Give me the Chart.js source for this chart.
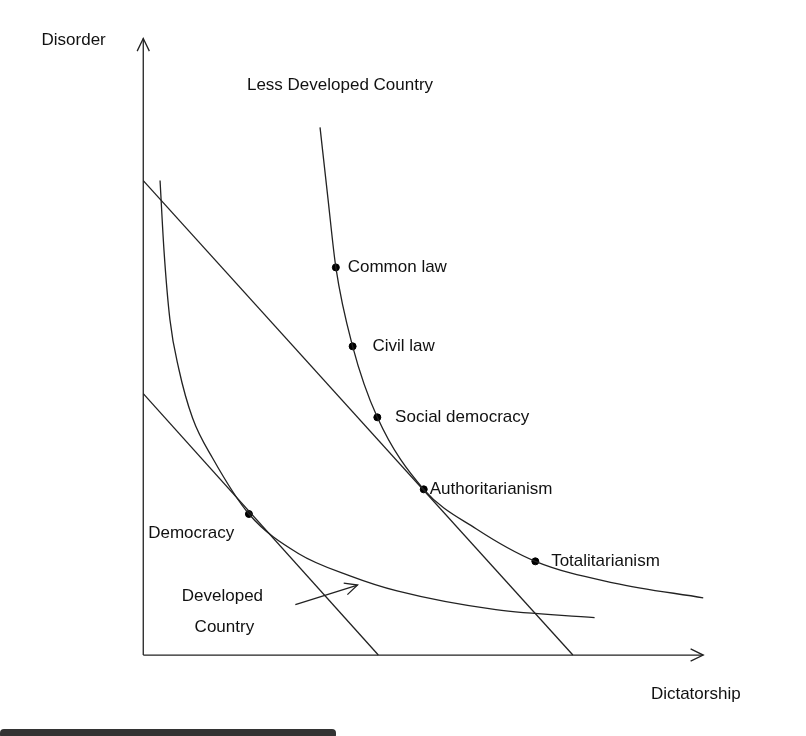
<!DOCTYPE html>
<html>
<head>
<meta charset="utf-8">
<script src="https://cdn.jsdelivr.net/npm/chart.js@4/dist/chart.umd.min.js"></script>
<style>
  body { margin: 0; background: #fff; }
  #wrap { position: relative; width: 806px; height: 736px; }
  #bar { position: absolute; left: 0; top: 729px; width: 336px; height: 10px; background: #333; border-radius: 4px; }
</style>
</head>
<body>
<div id="wrap">
  <canvas id="chart" width="806" height="736"></canvas>
  <div id="bar"></div>
</div>
<script>
// diagram units: x = right of origin, y = up from origin
const lessDevCurve = [[179,535],[187,463],[195,393],[212,313],[237,241],[284,168],[337,128],[397,95],[477,73],[567,58]];
const devCurve = [[17,481],[21,410],[27,340],[36,290],[50,240],[70,200],[107,143],[157,103],[210,80],[257,65],[357,46],[457,38]];
const budgetHigh = [[0,481],[435,0]];
const budgetLow = [[0,265],[238,0]];
const regimes = ['Common law', 'Civil law', 'Social democracy', 'Authoritarianism', 'Totalitarianism', 'Democracy'];
const regimePts = [[195,393],[212,313],[237,241],[284,168],[397,95],[107,143]];
const regimeLabelOffset = [[12,0],[20,0],[18,0],[6,0],[16,0],[-102,-20]];
const texts = [
  ['Disorder', -103, 623], ['Less Developed Country', 105, 578],
  ['Developed', 39, 60], ['Country', 52, 28], ['Dictatorship', 514, -40]
];

const pts = a => a.map(p => ({x: p[0], y: p[1]}));
const lineDs = (d, smooth) => ({
  data: pts(d), showLine: true, borderColor: '#222', borderWidth: 1.3,
  pointRadius: 0, tension: smooth ? 0.4 : 0, cubicInterpolationMode: smooth ? 'monotone' : 'default'
});

const labelPlugin = {
  id: 'labels',
  afterDatasetsDraw(chart) {
    const c = chart.ctx, xs = chart.scales.x, ys = chart.scales.y;
    c.save();
    c.fillStyle = '#111';
    c.font = '17px "Liberation Sans", Arial, sans-serif';
    c.textBaseline = 'middle';
    regimes.forEach((r, i) => {
      c.fillText(r, xs.getPixelForValue(regimePts[i][0] + regimeLabelOffset[i][0]),
        ys.getPixelForValue(regimePts[i][1] + regimeLabelOffset[i][1]));
    });
    texts.forEach(t => c.fillText(t[0], xs.getPixelForValue(t[1]), ys.getPixelForValue(t[2])));
    // arrowheads
    c.strokeStyle = '#222'; c.lineWidth = 1.3;
    const head = (x, y, ang) => {
      const px = xs.getPixelForValue(x), py = ys.getPixelForValue(y);
      c.beginPath();
      c.moveTo(px - 14 * Math.cos(ang - 0.45), py - 14 * Math.sin(ang - 0.45));
      c.lineTo(px, py);
      c.lineTo(px - 14 * Math.cos(ang + 0.45), py - 14 * Math.sin(ang + 0.45));
      c.stroke();
    };
    head(0, 625, -Math.PI / 2);
    head(567, 0, 0);
    head(217, 71, Math.atan2(-20, 63));
    c.restore();
  }
};

new Chart(document.getElementById('chart'), {
  type: 'scatter',
  data: {
    datasets: [
      lineDs([[0, 0], [0, 625]], false),
      lineDs([[0, 0], [567, 0]], false),
      lineDs([[154, 51], [217, 71]], false),
      lineDs(lessDevCurve, true),
      lineDs(devCurve, true),
      lineDs(budgetHigh, false),
      lineDs(budgetLow, false),
      { data: pts(regimePts), pointRadius: 3.5, pointBackgroundColor: '#000', pointBorderColor: '#000', showLine: false }
    ]
  },
  options: {
    responsive: false,
    animation: false,
    layout: { padding: 0 },
    plugins: { legend: { display: false }, tooltip: { enabled: false } },
    scales: {
      x: { type: 'linear', min: -140, max: 666, display: false },
      y: { type: 'linear', min: -77, max: 659, display: false }
    }
  },
  plugins: [labelPlugin]
});
</script>
</body>
</html>
